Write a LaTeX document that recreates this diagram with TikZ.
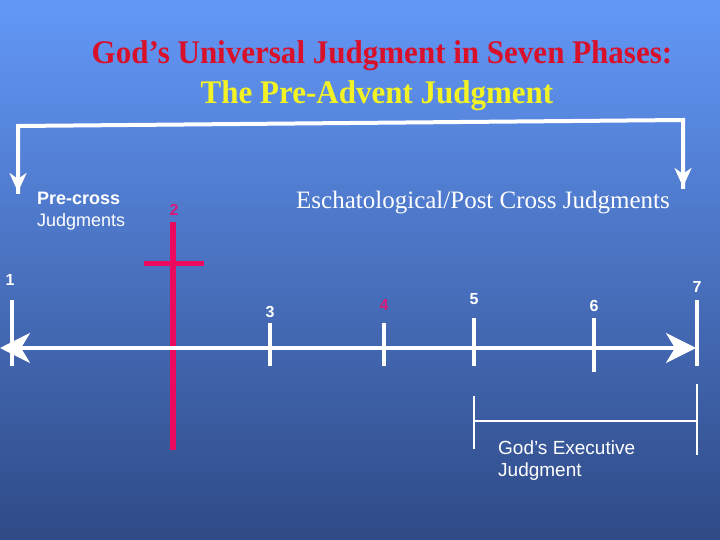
\documentclass[tikz,border=0pt]{standalone}
\usepackage{fontspec}
\setmainfont{Liberation Serif}
\newfontfamily\arialf{Liberation Sans}
\usetikzlibrary{arrows.meta}
\definecolor{bgtop}{HTML}{6398F8}
\definecolor{bgbot}{HTML}{2F4A86}
\definecolor{titlered}{HTML}{D8102A}
\definecolor{titleyel}{HTML}{F2F224}
\definecolor{crossmag}{HTML}{EC0A5E}
\definecolor{nummag}{HTML}{D81A78}
\tikzset{
  whiteline/.style={draw=white,line width=4pt},
  tickline/.style={draw=white,line width=4pt},
  crossline/.style={draw=crossmag,line width=6pt},
  sanslabel/.style={text=white,font=\arialf\fontsize{18}{22}\selectfont,inner sep=0pt},
  execlabel/.style={text=white,font=\arialf\fontsize{19}{22}\selectfont,inner sep=0pt},
  numlabel/.style={text=white,font=\arialf\bfseries\fontsize{16}{18}\selectfont,inner sep=0pt},
  bigarrow/.style={-{Stealth[length=30pt,width=30pt,inset=9pt]}},
  smallarrow/.style={-{Stealth[length=19pt,width=17pt,inset=6pt]}},
}
\begin{document}
\begin{tikzpicture}[x=1pt,y=-1pt]
\shade[top color=bgtop,bottom color=bgbot] (0,0) rectangle (720,540);
\useasboundingbox (0,0) rectangle (720,540);
% titles
\node[text=titlered,font=\bfseries\fontsize{33}{36}\selectfont,inner sep=0pt] (t1) at (382,56) {\scalebox{0.94}[1]{God’s Universal Judgment in Seven Phases:}};
\node[text=titleyel,font=\bfseries\fontsize{33}{36}\selectfont,inner sep=0pt] (t2) at (377,96) {\scalebox{0.94}[1]{The Pre-Advent Judgment}};
% top bracket
\coordinate (bl) at (18,126);
\coordinate (br) at (683,120);
\coordinate (blt) at (18,192);
\coordinate (brt) at (683,187);
\draw[whiteline,line cap=rect] (blt) -- (bl) -- (br) -- (brt);
\draw[white,line width=4pt,smallarrow] (18,150) -- (blt);
\draw[white,line width=4pt,smallarrow] (683,150) -- (brt);
% labels
\node[sanslabel,align=left,anchor=north west] (pre) at (37,192) {\textbf{Pre-cross}\\Judgments};
\node[numlabel,text=nummag] (n2) at (174,210) {2};
\node[text=white,font=\fontsize{25}{28}\selectfont,inner sep=0pt] (esch) at (483,203) {Eschatological/Post Cross Judgments};
% cross
\coordinate (ct) at (173,222);
\coordinate (cb) at (173,450);
\coordinate (cl) at (144,263);
\coordinate (cr) at (204,263);
\draw[crossline] (ct) -- (cb);
\draw[crossmag,line width=5pt] (cl) -- (cr);
% timeline
\coordinate (tl) at (0,348);
\coordinate (tr) at (696,348);
\draw[white,line width=4pt,bigarrow] (350,348) -- (tl);
\draw[white,line width=4pt,bigarrow] (350,348) -- (tr);
% ticks
\coordinate (k1t) at (12,300); \coordinate (k1b) at (12,366);
\coordinate (k3t) at (270,323); \coordinate (k3b) at (270,366);
\coordinate (k4t) at (384,323); \coordinate (k4b) at (384,366);
\coordinate (k5t) at (474,318); \coordinate (k5b) at (474,366);
\coordinate (k6t) at (594,318); \coordinate (k6b) at (594,372);
\coordinate (k7t) at (697,300); \coordinate (k7b) at (697,366);
\foreach \k in {1,3,4,5,6,7} \draw[tickline] (k\k t) -- (k\k b);
% numbers
\node[numlabel] (n1) at (10,280) {1};
\node[numlabel] (n3) at (270,312) {3};
\node[numlabel,text=nummag] (n4) at (384,305) {4};
\node[numlabel] (n5) at (474,299) {5};
\node[numlabel] (n6) at (594,306) {6};
\node[numlabel] (n7) at (697,287) {7};
% executive bracket
\coordinate (el1) at (474,396); \coordinate (el2) at (474,449);
\coordinate (er1) at (697,384); \coordinate (er2) at (697,455);
\coordinate (em1) at (474,421); \coordinate (em2) at (697,421);
\draw[white,line width=2.5pt] (el1) -- (el2);
\draw[white,line width=2.5pt] (er1) -- (er2);
\draw[white,line width=2.5pt] (em1) -- (em2);
\node[execlabel,align=left,anchor=north west] (exec) at (498,441) {God’s Executive\\Judgment};
\end{tikzpicture}
\end{document}
